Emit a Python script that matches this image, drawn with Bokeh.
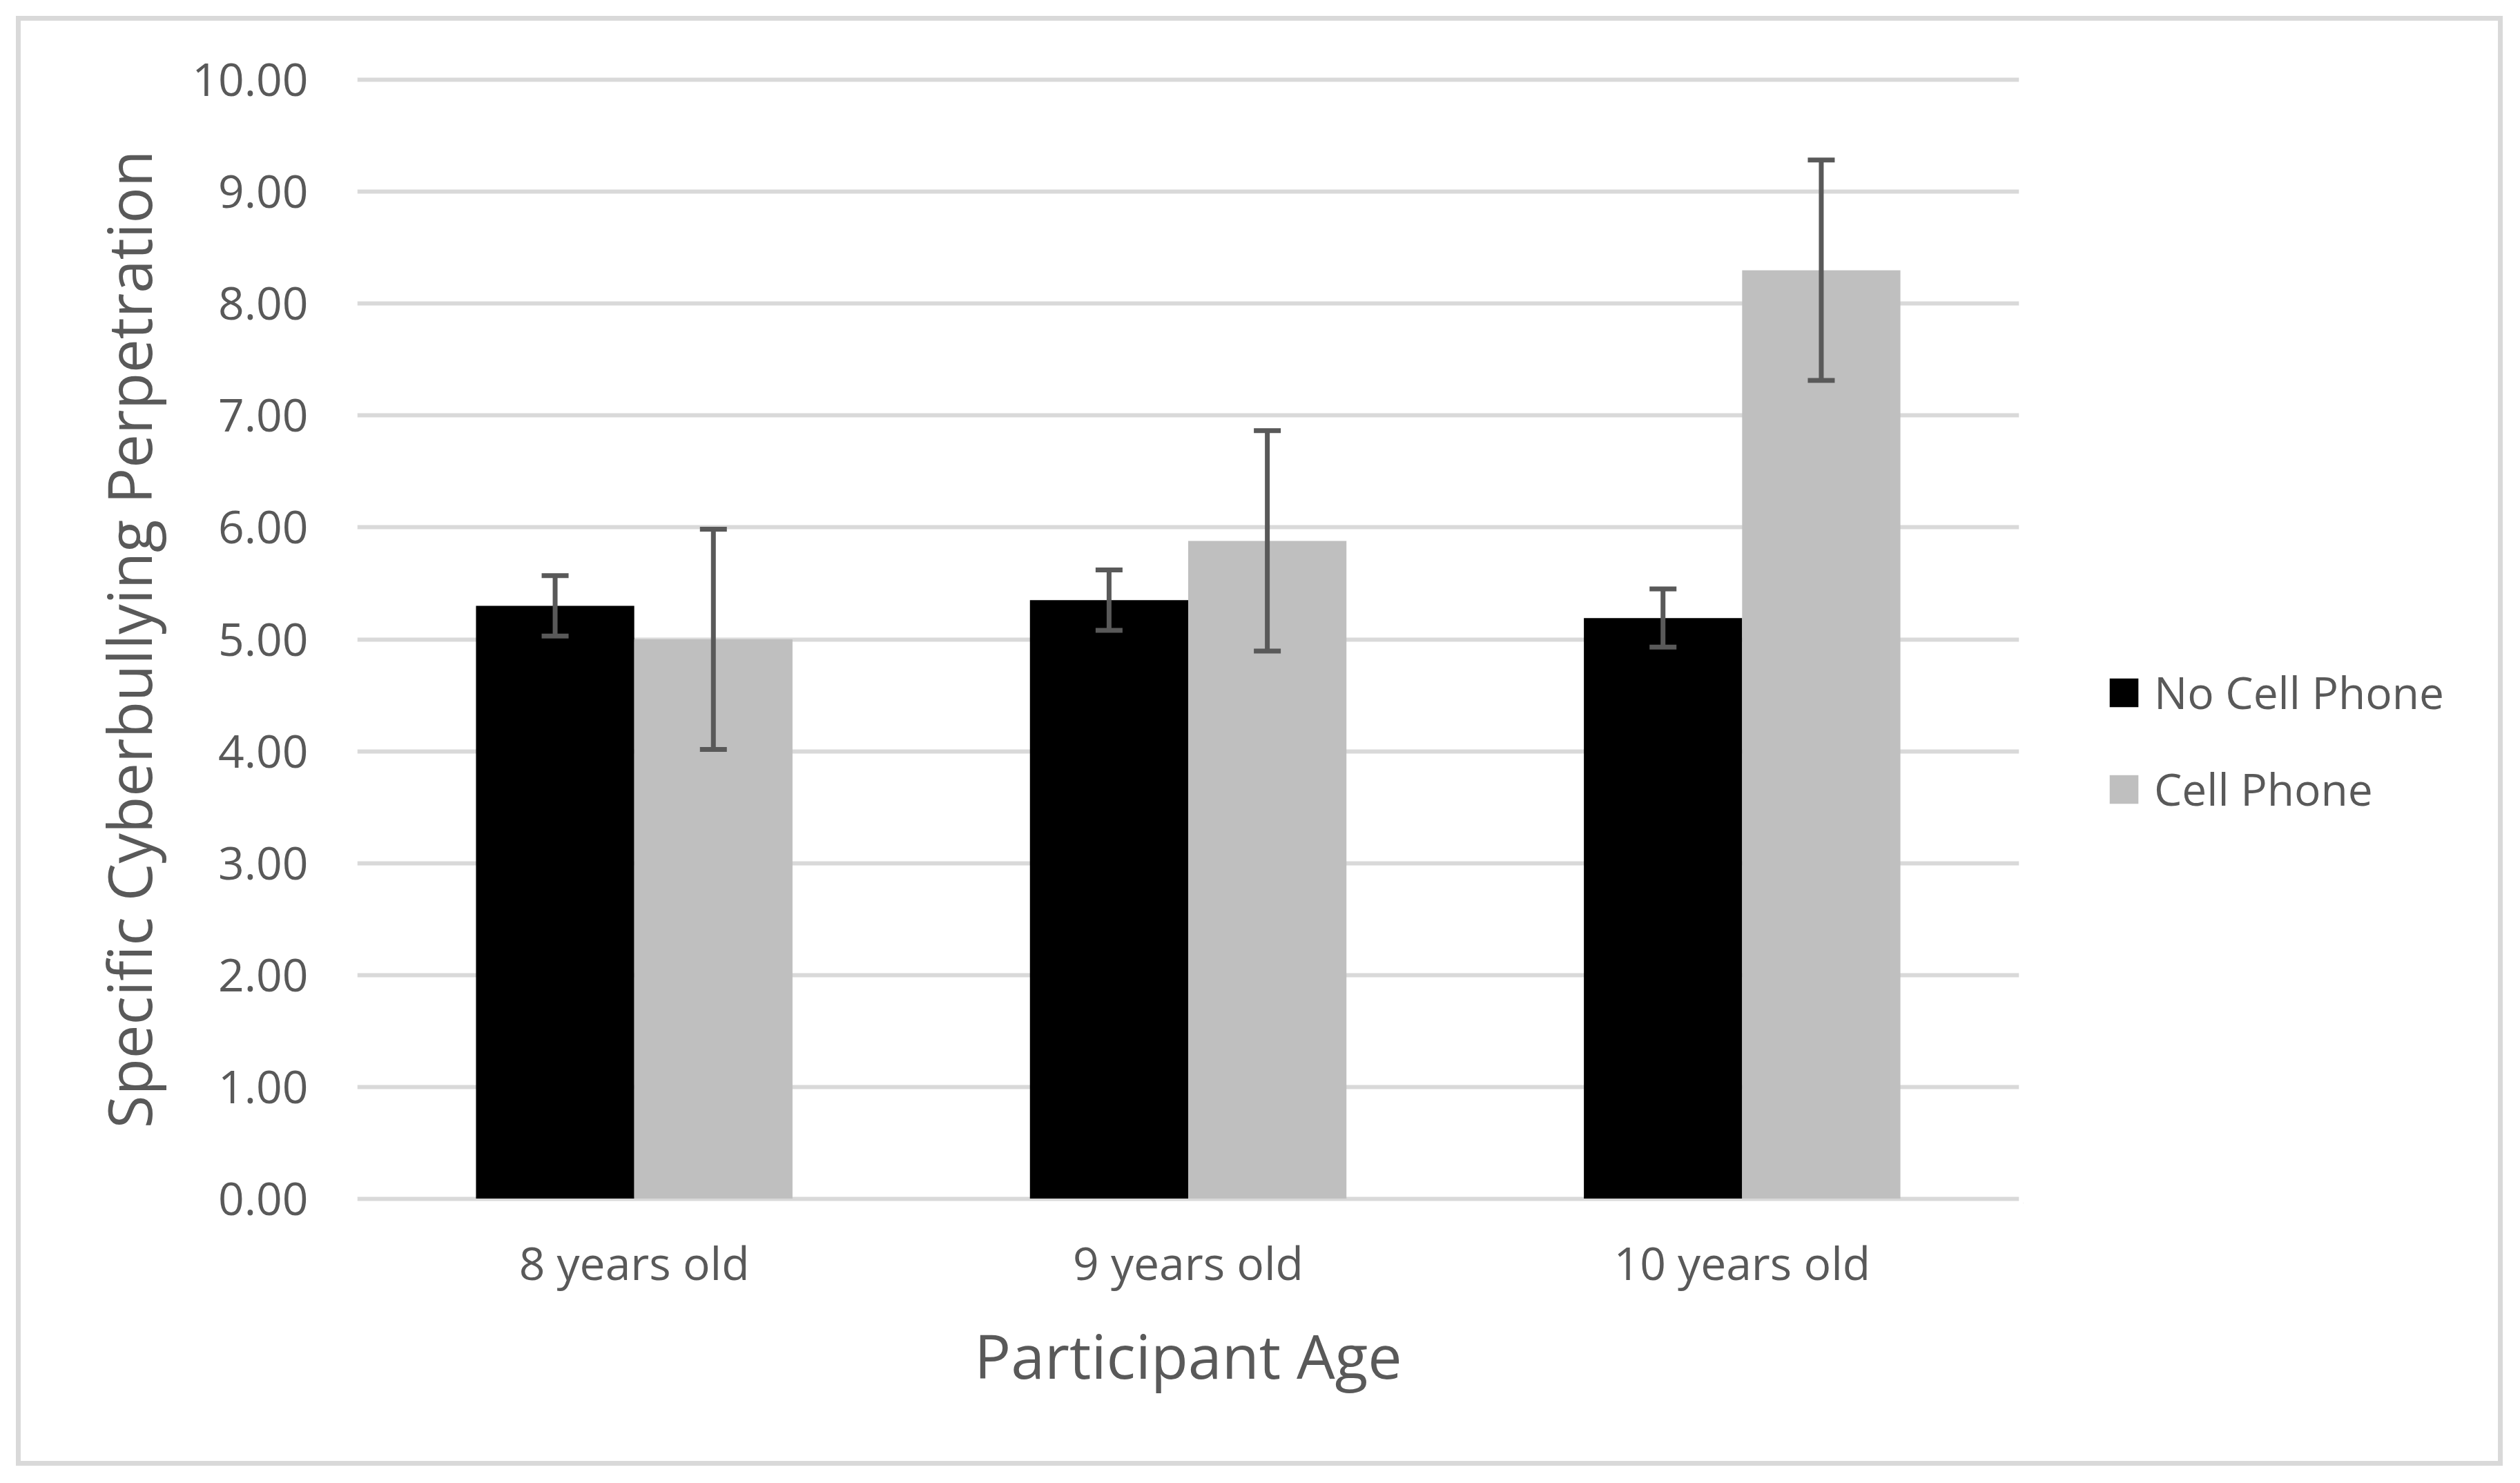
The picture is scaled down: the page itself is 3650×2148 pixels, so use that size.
from bokeh.plotting import figure
from bokeh.layouts import row
from bokeh.models import (ColumnDataSource, FactorRange, Range1d, Whisker, TeeHead,
                          NumeralTickFormatter, FixedTicker, Legend, LegendItem)
from bokeh.transform import dodge
from bokeh.embed import file_html
from bokeh.resources import INLINE

# ---- data ----
ages = ["8 years old", "9 years old", "10 years old"]
series = ["No Cell Phone", "Cell Phone"]
no_phone = [5.30, 5.35, 5.19]
no_phone_err = [0.27, 0.27, 0.26]
phone = [5.00, 5.88, 8.30]
phone_err = [0.985, 0.985, 0.985]
y_ticks = [0, 1, 2, 3, 4, 5, 6, 7, 8, 9, 10]

colors = ["#000000", "#bfbfbf"]
FONT = "Open Sans"
TXT = "#595959"

src = ColumnDataSource(dict(
    age=ages,
    no_phone=no_phone,
    no_lo=[v - e for v, e in zip(no_phone, no_phone_err)],
    no_hi=[v + e for v, e in zip(no_phone, no_phone_err)],
    phone=phone,
    ph_lo=[v - e for v, e in zip(phone, phone_err)],
    ph_hi=[v + e for v, e in zip(phone, phone_err)],
))

W, H = 3648, 2146
FRAME_RIGHT = 2924
WM = FRAME_RIGHT + 6          # main figure width
WL = W - WM                   # legend figure width

p = figure(x_range=FactorRange(*ages), y_range=Range1d(-0.04, 10.04),
           width=WM, height=H, output_backend="svg", toolbar_location=None,
           min_border_left=517, min_border_right=WM - FRAME_RIGHT, min_border_top=109,
           min_border_bottom=H - 1742)
p.x_range.range_padding = 0
p.outline_line_color = None
p.background_fill_color = "white"
p.border_fill_alpha = 0

bw = 0.2857
off = bw / 2
p.vbar(x=dodge("age", -off, range=p.x_range), top="no_phone", width=bw, bottom=0,
       source=src, fill_color=colors[0], line_color=None)
p.vbar(x=dodge("age", off, range=p.x_range), top="phone", width=bw, bottom=0,
       source=src, fill_color=colors[1], line_color=None)

for xoff, lo, hi in [(-off, "no_lo", "no_hi"), (off, "ph_lo", "ph_hi")]:
    w = Whisker(base=dodge("age", xoff, range=p.x_range), lower=lo, upper=hi, source=src,
                line_color="#595959", line_width=7, level="annotation",
                upper_head=TeeHead(size=39, line_color="#595959", line_width=7),
                lower_head=TeeHead(size=39, line_color="#595959", line_width=7))
    p.add_layout(w)

# grid
p.xgrid.grid_line_color = None
p.ygrid.grid_line_color = "#d9d9d9"
p.ygrid.grid_line_width = 6
p.ygrid.ticker = FixedTicker(ticks=y_ticks)

# y axis
ya = p.yaxis[0]
ya.ticker = FixedTicker(ticks=y_ticks)
ya.formatter = NumeralTickFormatter(format="0.00")
ya.axis_line_color = None
ya.major_tick_line_color = None
ya.minor_tick_line_color = None
ya.major_tick_out = 0
ya.major_tick_in = 0
ya.minor_tick_out = 0
ya.major_label_text_font = FONT
ya.major_label_text_font_size = "66px"
ya.major_label_text_color = TXT
ya.major_label_standoff = 71
ya.axis_label = "Specific Cyberbullying Perpetration"
ya.axis_label_text_font = FONT
ya.axis_label_text_font_size = "87px"
ya.axis_label_text_font_style = "normal"
ya.axis_label_text_color = TXT
ya.axis_label_standoff = 30

# x axis
xa = p.xaxis[0]
xa.axis_line_color = None
xa.major_tick_line_color = None
xa.minor_tick_line_color = None
xa.major_tick_out = 0
xa.major_tick_in = 0
xa.major_label_text_font = FONT
xa.major_label_text_font_size = "66px"
xa.major_label_text_color = TXT
xa.major_label_standoff = 40
xa.axis_label = "Participant Age"
xa.axis_label_text_font = FONT
xa.axis_label_text_font_size = "88px"
xa.axis_label_text_font_style = "normal"
xa.axis_label_text_color = TXT
xa.axis_label_standoff = 27

# ---- legend panel (separate figure to the right of the plot area) ----
q = figure(width=WL, height=H, output_backend="svg", toolbar_location=None,
           x_range=Range1d(0, 1), y_range=Range1d(0, 1),
           min_border_left=0, min_border_right=0, min_border_top=0, min_border_bottom=0)
q.axis.visible = False
q.grid.visible = False
q.outline_line_color = None
q.background_fill_alpha = 0
q.border_fill_alpha = 0
# legend swatch renderers: one bar each, placed outside this panel's visible range
swatch = ColumnDataSource(dict(x=[-5.0], top=[-5.0]))
k1 = q.vbar(x="x", top="top", bottom=-6.0, width=0.1, source=swatch,
            fill_color=colors[0], line_color=None)
k2 = q.vbar(x="x", top="top", bottom=-6.0, width=0.1, source=swatch,
            fill_color=colors[1], line_color=None)

glyph_left = 3049.75 - WM
legend_y = 556
lg = Legend(items=[LegendItem(label=series[0], renderers=[k1]),
                   LegendItem(label=series[1], renderers=[k2])],
            location=(round(glyph_left), legend_y))
lg.label_text_font = FONT
lg.label_text_font_size = "64px"
lg.label_text_color = TXT
lg.glyph_width = 52
lg.glyph_height = 52
lg.label_standoff = 18
lg.spacing = 53
lg.padding = 0
lg.margin = 0
lg.border_line_color = None
lg.background_fill_alpha = 0
q.add_layout(lg)

layout = row(p, q, styles={"outline": "7px solid #d9d9d9", "outline-offset": "-30px"})

open("out.html", "w").write(file_html(layout, INLINE))
